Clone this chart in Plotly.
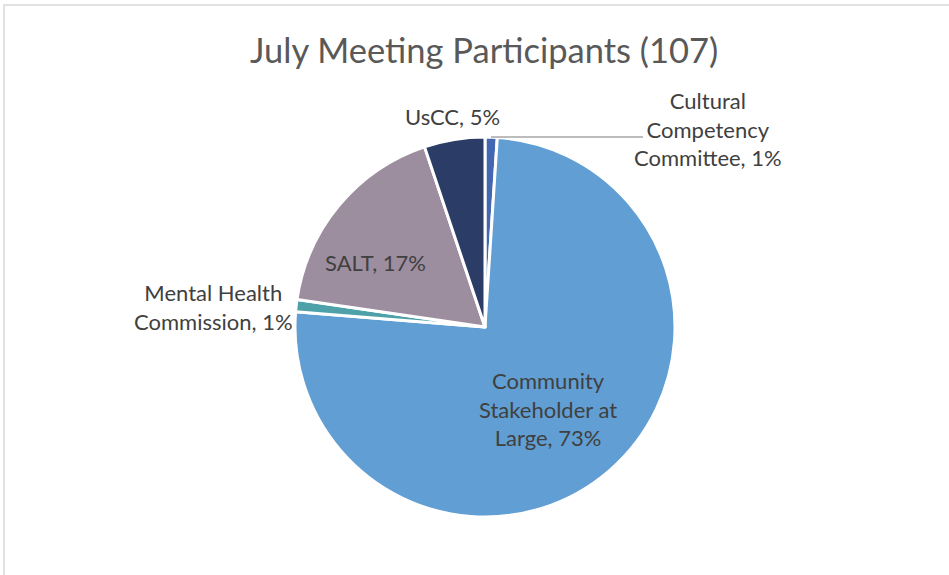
import plotly.graph_objects as go

# ---- data ----
categories = ["Cultural Competency Committee", "Community Stakeholder at Large",
              "Mental Health Commission", "SALT", "UsCC"]
percents = [1, 73, 1, 17, 5]
colors = ["#4467B1", "#619ED3", "#4FA1A9", "#9D8E9F", "#2B3D66"]
title_text = "July Meeting Participants (107)"

# label line breaks as shown in the chart
label_lines = {
    "Cultural Competency Committee": ["Cultural", "Competency", "Committee"],
    "Community Stakeholder at Large": ["Community", "Stakeholder at", "Large"],
    "Mental Health Commission": ["Mental Health", "Commission"],
    "SALT": ["SALT"],
    "UsCC": ["UsCC"],
}

W, H = 949, 575
cx, cy, r = 485, 327, 190

def px(x):
    return x / W

def py(y):
    return 1 - y / H

fig = go.Figure(go.Pie(
    labels=categories,
    values=percents,
    sort=False,
    direction="clockwise",
    rotation=0,
    marker=dict(colors=colors, line=dict(color="white", width=3)),
    textinfo="none",
    hoverinfo="label+percent",
    showlegend=False,
    domain=dict(x=[px(cx - r), px(cx + r)], y=[py(cy + r), py(cy - r)]),
))

# label placement (layout positions, pixel centres)
label_pos = {
    "Cultural Competency Committee": (708, 129),
    "Community Stakeholder at Large": (548, 409),
    "Mental Health Commission": (213, 307),
    "SALT": (375, 262),
    "UsCC": (452, 116),
}

font_family = "Lato, 'Open Sans', sans-serif"
annotations = []
for cat, pct in zip(categories, percents):
    lines = list(label_lines[cat])
    lines[-1] = f"{lines[-1]}, {pct}%"
    x, y = label_pos[cat]
    annotations.append(dict(
        x=px(x), y=py(y), xref="paper", yref="paper",
        text="<br>".join(lines), showarrow=False,
        xanchor="center", yanchor="middle", align="center",
        font=dict(family=font_family, size=22, color="#404040"),
    ))

annotations.append(dict(
    x=px(484), y=py(50), xref="paper", yref="paper",
    text=title_text, showarrow=False, xanchor="center", yanchor="middle",
    font=dict(family=font_family, size=34.5, color="#595959"),
))

shapes = [
    # chart area border
    dict(type="rect", xref="paper", yref="paper",
         x0=px(4), x1=px(W + 10), y0=py(H + 10), y1=py(5),
         line=dict(color="#D9D9D9", width=1.5), fillcolor="rgba(0,0,0,0)"),
    # leader line for the Cultural Competency Committee label
    dict(type="line", xref="paper", yref="paper",
         x0=px(491), x1=px(643), y0=py(137), y1=py(137),
         line=dict(color="#A6A6A6", width=1.5)),
]

fig.update_layout(
    width=W, height=H,
    margin=dict(l=0, r=0, t=0, b=0),
    paper_bgcolor="white",
    plot_bgcolor="white",
    annotations=annotations,
    shapes=shapes,
)

fig.write_html("out.html",
               config={"displayModeBar": False},
               post_script="document.body.style.margin='0';document.body.style.overflow='hidden';")
